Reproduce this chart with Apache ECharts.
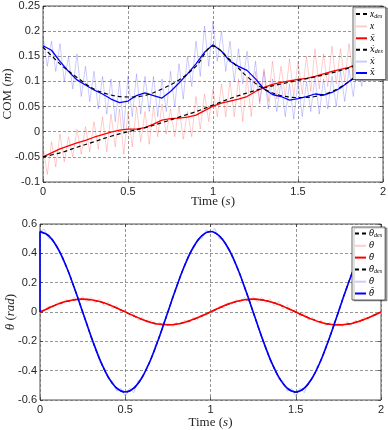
<!DOCTYPE html>
<html><head><meta charset="utf-8">
<script src="https://cdn.jsdelivr.net/npm/echarts/dist/echarts.min.js"></script>
<style>html,body{margin:0;padding:0;background:#fff}#c{width:388px;height:430px}</style>
</head><body><div id="c"></div>
<script>
// ---------- time bases ----------
const tCoarse = [0,0.1,0.2,0.3,0.4,0.5,0.6,0.7,0.8,0.9,1,1.1,1.2,1.3,1.4,1.5,1.6,1.7,1.8,1.9,2];
const tMid = [0,0.05,0.1,0.15,0.2,0.25,0.3,0.35,0.4,0.45,0.5,0.55,0.6,0.65,0.7,0.75,0.8,0.85,0.9,0.95,1,1.05,1.1,1.15,1.2,1.25,1.3,1.35,1.4,1.45,1.5,1.55,1.6,1.65,1.7,1.75,1.8,1.85,1.9,1.95,2];
const tFine = [0,0.025,0.05,0.075,0.1,0.125,0.15,0.175,0.2,0.225,0.25,0.275,0.3,0.325,0.35,0.375,0.4,0.425,0.45,0.475,0.5,0.525,0.55,0.575,0.6,0.625,0.65,0.675,0.7,0.725,0.75,0.775,0.8,0.825,0.85,0.875,0.9,0.925,0.95,0.975,1,1.025,1.05,1.075,1.1,1.125,1.15,1.175,1.2,1.225,1.25,1.275,1.3,1.325,1.35,1.375,1.4,1.425,1.45,1.475,1.5,1.525,1.55,1.575,1.6,1.625,1.65,1.675,1.7,1.725,1.75,1.775,1.8,1.825,1.85,1.875,1.9,1.925,1.95,1.975,2];
const tJump = [0].concat(tMid);

// ---------- top panel: COM ----------
const xDes = [-0.05,-0.042,-0.031,-0.02,-0.009,0.0,0.008,0.018,0.029,0.04,0.053,0.066,0.077,0.087,0.095,0.102,0.109,0.117,0.127,0.14,0.158];
const xdotDes = [0.168,0.135,0.108,0.085,0.073,0.069,0.072,0.085,0.103,0.13,0.17,0.143,0.11,0.085,0.072,0.068,0.07,0.08,0.1,0.13,0.168];
const xBar = [-0.05,-0.042,-0.034,-0.028,-0.022,-0.017,-0.011,-0.006,-0.001,0.003,0.005,0.005,0.008,0.015,0.023,0.026,0.027,0.029,0.033,0.042,0.051,0.057,0.061,0.065,0.07,0.08,0.088,0.094,0.098,0.101,0.104,0.106,0.11,0.115,0.12,0.124,0.128,0.135,0.143,0.152,0.162];
const xdotBar = [0.171,0.162,0.14,0.12,0.103,0.093,0.083,0.075,0.065,0.058,0.061,0.072,0.077,0.072,0.067,0.08,0.097,0.115,0.135,0.158,0.173,0.16,0.14,0.13,0.122,0.105,0.085,0.074,0.07,0.063,0.066,0.07,0.075,0.073,0.078,0.087,0.1,0.11,0.13,0.15,0.165];
const xMeas = [-0.03,-0.085,-0.02,-0.07,-0.005,-0.06,-0.01,-0.05,0.005,-0.045,
0.01,-0.04,0.02,-0.035,0.03,-0.04,0.035,-0.03,0.045,-0.045,
0.04,-0.03,0.05,-0.02,0.04,-0.025,0.05,-0.01,0.055,-0.005,
0.045,-0.01,0.05,-0.015,0.04,-0.01,0.07,0.005,0.075,0.02,
0.085,0.03,0.095,0.03,0.1,0.03,0.105,0.02,0.11,0.03,
0.12,0.055,0.125,0.06,0.14,0.065,0.13,0.07,0.145,0.07,
0.14,0.075,0.15,0.08,0.165,0.085,0.155,0.09,0.17,0.095,
0.165,0.1,0.175,0.11,0.17,0.12,0.18,0.13,0.19,0.14,
0.17];
const xdotMeas = [0.19,0.13,0.18,0.12,0.175,0.1,0.15,0.085,0.155,0.07,
0.13,0.06,0.12,0.045,0.11,0.035,0.105,0.02,0.1,0.005,
0.11,0.03,0.115,0.035,0.11,0.04,0.11,0.03,0.105,0.04,
0.12,0.05,0.135,0.065,0.15,0.09,0.18,0.11,0.21,0.13,
0.22,0.14,0.2,0.12,0.18,0.1,0.165,0.095,0.16,0.08,
0.14,0.06,0.12,0.045,0.105,0.04,0.1,0.03,0.095,0.025,
0.1,0.03,0.1,0.04,0.11,0.035,0.105,0.045,0.11,0.05,
0.12,0.06,0.125,0.07,0.14,0.09,0.16,0.11,0.18,0.13,
0.19];

// ---------- bottom panel: theta ----------
const thDes = [0,0.027,0.051,0.07,0.083,0.087,0.083,0.07,0.051,0.027,0,-0.027,-0.051,-0.07,-0.083,-0.087,-0.083,-0.07,-0.051,-0.027,0,0.027,0.051,0.07,0.083,0.087,0.083,0.07,0.051,0.027,0,-0.027,-0.051,-0.07,-0.083,-0.087,-0.083,-0.07,-0.051,-0.027,0];
const thBar = [0,0.026,0.052,0.071,0.084,0.088,0.084,0.071,0.052,0.027,0.001,-0.026,-0.051,-0.071,-0.084,-0.087,-0.083,-0.07,-0.05,-0.026,0.001,0.028,0.052,0.071,0.084,0.088,0.084,0.07,0.051,0.026,0,-0.027,-0.052,-0.071,-0.084,-0.088,-0.084,-0.071,-0.051,-0.027,0];
const thdotDes = [0.547,0.52,0.443,0.322,0.169,0,-0.169,-0.322,-0.443,-0.52,-0.547,-0.52,-0.443,-0.322,-0.169,0,0.169,0.322,0.443,0.52,0.547,0.52,0.443,0.322,0.169,0,-0.169,-0.322,-0.443,-0.52,-0.547,-0.52,-0.443,-0.322,-0.169,0,0.169,0.322,0.443,0.52,0.547];
const thdotBar = [0,0.548,0.521,0.443,0.322,0.169,0.001,-0.168,-0.321,-0.442,-0.519,-0.545,-0.519,-0.443,-0.322,-0.169,0,0.169,0.322,0.443,0.521,0.549,0.521,0.443,0.322,0.169,0.001,-0.168,-0.321,-0.442,-0.519,-0.545,-0.519,-0.443,-0.322,-0.169,0,0.169,0.322,0.443,0.521,0.548];
const thMeas = [0,0.005,0.04,0.03,0.065,0.05,0.085,0.065,0.1,0.07,
0.105,0.07,0.1,0.06,0.09,0.04,0.07,0.02,0.045,-0.005,
0.015,-0.03,-0.01,-0.055,-0.035,-0.075,-0.055,-0.09,-0.07,-0.1,
-0.075,-0.1,-0.07,-0.09,-0.055,-0.075,-0.035,-0.05,-0.015,-0.025,
0.01,0.005,0.04,0.025,0.065,0.05,0.085,0.065,0.1,0.07,
0.105,0.07,0.1,0.06,0.09,0.04,0.075,0.02,0.05,-0.01,
0.02,-0.03,-0.005,-0.055,-0.035,-0.075,-0.055,-0.095,-0.07,-0.1,
-0.075,-0.1,-0.065,-0.09,-0.055,-0.075,-0.035,-0.05,-0.015,-0.02,
0];
const thdotMeas = [0.55,0.565,0.5,0.5,0.43,0.4,0.31,0.26,0.155,0.1,
-0.015,-0.07,-0.18,-0.235,-0.34,-0.375,-0.46,-0.47,-0.54,-0.52,
-0.575,-0.52,-0.55,-0.47,-0.455,-0.37,-0.335,-0.23,-0.18,-0.07,
-0.01,0.1,0.155,0.26,0.31,0.4,0.43,0.5,0.5,0.56,
0.54,0.57,0.5,0.5,0.43,0.4,0.31,0.26,0.155,0.1,
-0.01,-0.075,-0.18,-0.235,-0.34,-0.375,-0.46,-0.47,-0.54,-0.52,
-0.575,-0.52,-0.55,-0.475,-0.45,-0.37,-0.335,-0.23,-0.18,-0.07,
-0.015,0.1,0.155,0.26,0.31,0.4,0.43,0.5,0.5,0.56,
0.54];

// ---------- tick settings ----------
const xTicks = {min: 0, max: 2, interval: 0.5};
const yTopTicks = {min: -0.1, max: 0.25, interval: 0.05};
const yBotTicks = {min: -0.6, max: 0.6, interval: 0.2};

const zip = (t, v) => t.map((x, i) => [x, v[i]]);
const INK = '#262626';
const tickFont = {fontFamily: 'Liberation Sans', fontSize: 11, color: INK};
const serif = 'Liberation Serif';
const split = {show: true, lineStyle: {color: '#6a6a6a', width: 0.7, type: [3, 2]}};

function mainX(gi, gap) {
  return Object.assign({
    type: 'value', gridIndex: gi, position: 'bottom',
    axisLine: {show: false, onZero: false},
    axisTick: {show: true, inside: true, length: 3, lineStyle: {color: INK, width: 0.7}},
    axisLabel: Object.assign({margin: 4, formatter: v => String(v)}, tickFont),
    splitLine: split,
    name: 'Time ({i|s})', nameLocation: 'middle', nameGap: gap, nameMoveOverlap: false,
    nameTextStyle: {fontFamily: serif, fontSize: 13, color: INK, rich: {i: {fontFamily: serif, fontSize: 13, fontStyle: 'italic', color: INK}}}
  }, xTicks);
}
function mirrorX(gi) {
  return Object.assign({
    type: 'value', gridIndex: gi, position: 'top',
    axisLine: {show: false, onZero: false},
    axisTick: {show: true, inside: true, length: 3, lineStyle: {color: INK, width: 0.7}},
    axisLabel: {show: false}, splitLine: {show: false}
  }, xTicks);
}
function mainY(gi, ticks, name, gap) {
  return Object.assign({
    type: 'value', gridIndex: gi, position: 'left',
    axisLine: {show: false, onZero: false},
    axisTick: {show: true, inside: true, length: 3, lineStyle: {color: INK, width: 0.7}},
    axisLabel: Object.assign({margin: 3, formatter: v => String(+v.toFixed(3))}, tickFont),
    splitLine: split,
    name: name, nameLocation: 'middle', nameGap: gap, nameMoveOverlap: false,
    nameTextStyle: {fontFamily: serif, fontSize: 13, color: INK, rich: {i: {fontFamily: serif, fontSize: 13, fontStyle: 'italic', color: INK}}}
  }, ticks);
}
function mirrorY(gi, ticks) {
  return Object.assign({
    type: 'value', gridIndex: gi, position: 'right',
    axisLine: {show: false, onZero: false},
    axisTick: {show: true, inside: true, length: 3, lineStyle: {color: INK, width: 0.7}},
    axisLabel: {show: false}, splitLine: {show: false}
  }, ticks);
}

const DASH = {color: '#000', width: 1.2, type: [4, 3]};
function line(name, gi, data, lineStyle, z, smooth) {
  return {
    name: name, type: 'line', xAxisIndex: gi, yAxisIndex: gi,
    data: data, symbol: 'none', showSymbol: false, smooth: smooth ? 0.35 : false,
    lineStyle: lineStyle, itemStyle: {color: lineStyle.color}, z: z, silent: true
  };
}

const labels = {
  xdes: '{i|x}{s|des}', x: '{i|x}', xbar: '{a|x\u0304}',
  xdotdes: '{a|x\u0307}{s|des}', xdot: '{a|x\u0307}', xdotbar: '{a|x\u0307\u0304}',
  thdes: '{a|\u03B8}{s|des}', th: '{a|\u03B8}', thbar: '{a|\u03B8\u0304}',
  thdotdes: '{a|\u03B8\u0307}{s|des}', thdot: '{a|\u03B8\u0307}', thdotbar: '{a|\u03B8\u0307\u0304}'
};
function legend(names, left, top, gap) {
  return {
    data: names, orient: 'vertical', left: left, top: top,
    itemWidth: 11, itemHeight: 8, itemGap: gap, padding: [2, 3, 2, 2],
    backgroundColor: '#fff', borderColor: INK, borderWidth: 0.7,
    shadowColor: 'rgba(0,0,0,0.35)', shadowOffsetX: 2, shadowOffsetY: 1, shadowBlur: 0,
    selectedMode: false,
    itemStyle: {opacity: 0},
    formatter: n => labels[n],
    textStyle: {
      fontFamily: serif, fontSize: 9, color: '#000', padding: [0, 0, 0, -2],
      rich: {
        i: {fontFamily: serif, fontSize: 9.5, fontStyle: 'italic', color: '#000'},
        a: {fontFamily: 'DejaVu Serif', fontSize: 8.5, fontStyle: 'italic', color: '#000'},
        s: {fontFamily: serif, fontSize: 6, fontStyle: 'italic', color: '#000', verticalAlign: 'bottom', padding: [4, 0, 0, 0]}
      }
    }
  };
}

const gridBase = {show: true, borderColor: INK, borderWidth: 0.8, backgroundColor: 'transparent', containLabel: false, outerBoundsMode: 'none'};
const option = {
  animation: false,
  backgroundColor: '#fff',
  grid: [
    Object.assign({left: 43, top: 6, width: 340, height: 176}, gridBase),
    Object.assign({left: 40, top: 224, width: 341, height: 176}, gridBase)
  ],
  xAxis: [mainX(0, 13), mainX(1, 16), mirrorX(0), mirrorX(1)],
  yAxis: [
    mainY(0, yTopTicks, 'COM ({i|m})', 29),
    mainY(1, yBotTicks, '{i|\u03B8} ({i|rad})', 23),
    mirrorY(0, yTopTicks), mirrorY(1, yBotTicks)
  ],
  legend: [
    legend(['xdes', 'x', 'xbar', 'xdotdes', 'xdot', 'xdotbar'], 353, 7, 2.4),
    legend(['thdes', 'th', 'thbar', 'thdotdes', 'thdot', 'thdotbar'], 352, 227, 2.8)
  ],
  series: [
    line('xdes', 0, zip(tCoarse, xDes), DASH, 3, true),
    line('x', 0, zip(tFine, xMeas), {color: 'rgba(255,0,0,0.2)', width: 1}, 1, false),
    line('xbar', 0, zip(tMid, xBar), {color: '#ff0000', width: 1.3}, 2, false),
    line('xdotdes', 0, zip(tCoarse, xdotDes), DASH, 3, true),
    line('xdot', 0, zip(tFine, xdotMeas), {color: 'rgba(0,0,255,0.2)', width: 1}, 1, false),
    line('xdotbar', 0, zip(tMid, xdotBar), {color: '#0000ff', width: 1.3}, 2, false),

    line('thdes', 1, zip(tMid, thDes), DASH, 2, true),
    line('th', 1, zip(tFine, thMeas), {color: 'rgba(255,0,0,0.2)', width: 1}, 1, false),
    line('thbar', 1, zip(tMid, thBar), {color: '#ff0000', width: 1.6}, 2, true),
    line('thdotdes', 1, zip(tMid, thdotDes), DASH, 2, true),
    line('thdot', 1, zip(tFine, thdotMeas), {color: 'rgba(0,0,255,0.2)', width: 1}, 1, false),
    line('thdotbar', 1, zip(tJump, thdotBar), {color: '#0000ff', width: 1.6}, 2, true)
  ]
};
const chart = echarts.init(document.getElementById('c'), null, {renderer: 'canvas'});
chart.setOption(option);
</script>
</body></html>
